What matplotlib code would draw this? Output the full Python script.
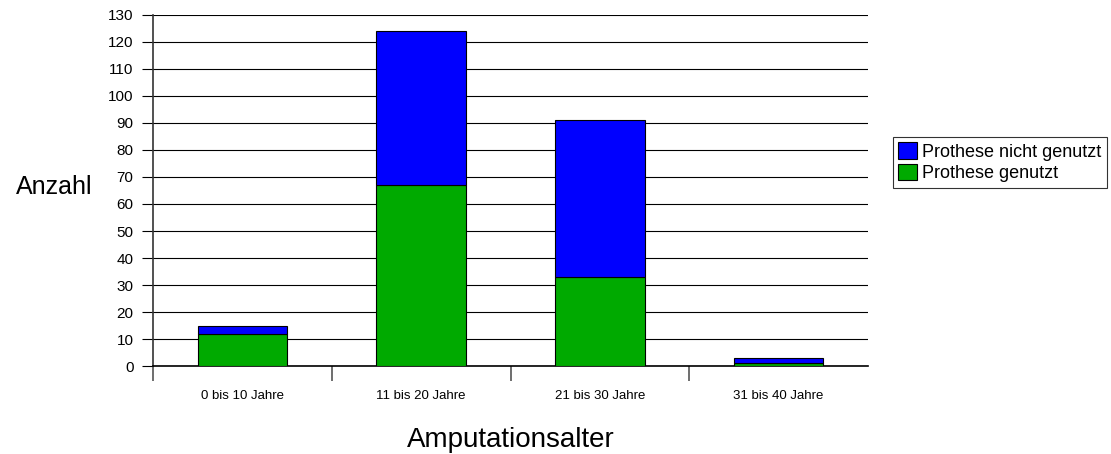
#!/usr/bin/env python3
"""Stacked bars: prosthesis use by amputation age."""
import matplotlib

matplotlib.use("Agg")
import matplotlib.pyplot as plt
import numpy as np

plt.rcParams["font.family"] = ["Liberation Sans", "DejaVu Sans"]

categories = ["0 bis 10 Jahre", "11 bis 20 Jahre", "21 bis 30 Jahre", "31 bis 40 Jahre"]
genutzt = [12, 67, 33, 1]
nicht_genutzt = [3, 57, 58, 2]
yticks = list(range(0, 131, 10))

fig = plt.figure(figsize=(11.11, 4.54), dpi=100)
ax = fig.add_axes([0.1377, 0.1938, 0.6436, 0.7732])

x = np.arange(len(categories))
b1 = ax.bar(x, genutzt, width=0.5, color="#00aa00", edgecolor="black", linewidth=0.8,
            label="Prothese genutzt", zorder=3)
b2 = ax.bar(x, nicht_genutzt, bottom=genutzt, width=0.5, color="#0000ff", edgecolor="black",
            linewidth=0.8, label="Prothese nicht genutzt", zorder=3)

ax.set_xlim(-0.5, len(categories) - 0.5)
ax.set_ylim(0, 130)
ax.set_yticks(yticks)
ax.yaxis.grid(True, color="black", linewidth=0.8, zorder=0)
ax.tick_params(axis="y", direction="out", length=8, width=0.8, labelsize=11, pad=6)

ax.set_xticks(x)
ax.set_xticklabels(categories, fontsize=9.5)
ax.tick_params(axis="x", length=0, pad=17)
ax.set_xticks(np.arange(-0.5, len(categories) - 1, 1.0), minor=True)
ax.tick_params(axis="x", which="minor", direction="out", length=11, width=1.2, color="#555555")

for s in ["top", "right"]:
    ax.spines[s].set_visible(False)
ax.spines["left"].set_linewidth(1.2)
ax.spines["left"].set_color("#333333")
ax.spines["bottom"].set_linewidth(1.2)

ax.set_ylabel("Anzahl", fontsize=18, rotation=0, ha="right", va="center")
ax.yaxis.set_label_coords(-0.085, 0.51)
ax.set_xlabel("Amputationsalter", fontsize=20, labelpad=18)

leg = ax.legend([b2, b1], ["Prothese nicht genutzt", "Prothese genutzt"],
                loc="center left", bbox_to_anchor=(1.035, 0.58), fontsize=13,
                frameon=True, fancybox=False, shadow=False, edgecolor="black",
                handlelength=1.0, handleheight=1.0, handletextpad=0.3,
                borderpad=0.3, labelspacing=0.2, borderaxespad=0)
leg.get_frame().set_linewidth(0.8)

fig.savefig("out.png", dpi=100)
